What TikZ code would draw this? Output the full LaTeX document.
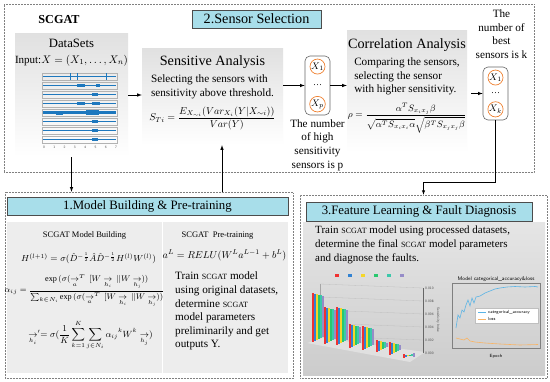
\RequirePackage{fix-cm}
\documentclass[tikz,border=0pt]{standalone}
\usepackage{amsmath}
\usepackage{fontspec}
\setmainfont{Liberation Serif}
\usepackage{tikz}
\usetikzlibrary{arrows,positioning}

\definecolor{titlecyan}{RGB}{168,222,234}
\definecolor{sensorange}{RGB}{240,130,50}
\definecolor{sigblue}{RGB}{30,120,190}
\definecolor{barred}{RGB}{240,50,50}
\definecolor{barblue}{RGB}{50,130,210}
\definecolor{baryellow}{RGB}{245,215,40}
\definecolor{bargreen}{RGB}{40,200,110}
\definecolor{barteal}{RGB}{60,200,170}
\definecolor{barpurple}{RGB}{150,140,200}
\definecolor{lineblue}{RGB}{90,180,230}
\definecolor{lineorange}{RGB}{250,180,100}

\newcommand{\scgat}{{\fontsize{8}{8}\selectfont SCGAT}}
\newcommand{\ulvec}[1]{\underset{#1}{\rightarrow}}

\begin{document}
\begin{tikzpicture}[x=1pt, y=-1pt,
    dotbox/.style={draw=black!50, densely dotted, line width=0.5pt},
    titlebox/.style={draw=black!70, fill=titlecyan, line width=0.5pt, inner sep=0pt},
    panel/.style={top color=black!12, bottom color=white, inner sep=0pt},
    grpbox/.style={draw=black!60, rounded corners=5pt, fill=white, line width=0.6pt},
    sensc/.style={draw=sensorange, circle, line width=0.7pt, minimum size=15pt, inner sep=0pt, font=\fontsize{9.5}{9.5}\selectfont},
    arr/.style={-latex, line width=0.6pt},
    head/.style={font=\fontsize{14.2}{16}\selectfont},
    body/.style={font=\fontsize{11.2}{13.6}\selectfont, align=left, inner sep=0pt},
    tiny/.style={font=\fontsize{3.5}{4}\sffamily, text=black!70, inner sep=0pt}]
  \fill[white] (0,0) rectangle (550,381);
  \useasboundingbox (0,0) rectangle (550,381);

  % sensor selection
  \node[dotbox, minimum width=530pt, minimum height=168pt] (selbox) at (269,88) {};
  \node[titlebox, head, minimum width=129pt, minimum height=18pt] (seltitle) at (256.5,19) {2.Sensor Selection};
  \node[font=\bfseries\fontsize{12.2}{13}\selectfont] (scgat) at (59,20) {SCGAT};

  \node[panel, minimum width=113pt, minimum height=124pt] (data) at (71.5,95) {};
  \node[below=3pt of data.north, font=\fontsize{12.7}{13}\selectfont] (datat) {DataSets};
  \node[below=0pt of datat, font=\fontsize{11}{12}\selectfont] (input) {Input:$X=(X_1,\ldots,X_n)$};
  \foreach \i/\w in {0/0.4,1/1.2,2/0.7,3/1.2,4/2.2,5/1.2,6/1.0,7/0.9} {
    \draw[black!30, line width=0.3pt] (42,73+9*\i) rectangle (117,80+9*\i);
    \draw[sigblue, line width=\w pt] (43,76.5+9*\i) -- (116,76.5+9*\i);
  }
  \foreach \i/\xa/\xb/\h in {1/77/85/2.5, 1/96/100/2.5, 2/92/98/2.5, 3/77/85/2.5, 3/92/100/3,
      4/56/63/4, 4/86/99/4.5, 5/92/98/2.5, 6/92/98/2.5, 7/92/98/2.2}
    \fill[sigblue] (\xa,76.5+9*\i-\h/2) rectangle (\xb,76.5+9*\i+\h/2);
  \foreach \xx in {70,77,106}
    \draw[sigblue, line width=0.5pt] (\xx,73) -- (\xx,80);
  \foreach \t in {0,...,7}
    \node[tiny] (dtick\t) at (44+10.3*\t,147) {\t};

  \node[panel, minimum width=141pt, minimum height=97pt] (sens) at (212.5,96.5) {};
  \node[below=4pt of sens.north, head] (senst) {Sensitive Analysis};
  \node[below=3pt of senst, body] (senstxt) {Selecting the sensors with\\sensitivity above threshold.};
  \node[below=4pt of senstxt, font=\fontsize{10}{12}\selectfont] (sensf)
    {$S_{Ti}=\dfrac{E_{X_{\sim i}}(Var_{X_i}(Y|X_{\sim i}))}{Var(Y)}$};

  \node[grpbox, minimum width=25pt, minimum height=59pt] (grpP) at (317.5,85.5) {};
  \node[sensc, below=3pt of grpP.north] (xp1) {$X_1$};
  \node[sensc, above=3pt of grpP.south] (xpp) {$X_p$};
  \node[font=\fontsize{9}{9}\selectfont, inner sep=0pt] (pdots) at (grpP) {\ldots};
  \node[below=4pt of grpP, body, align=center] (pnote) {The number\\of high\\sensitivity\\sensors is p};

  \node[panel, minimum width=120pt, minimum height=122pt] (corr) at (407,91) {};
  \node[below=5pt of corr.north, head] (corrt) {Correlation Analysis};
  \node[below=3pt of corrt, body] (corrtxt) {Comparing the sensors,\\selecting the sensor\\with higher sensitivity.};
  \node[below=7pt of corrtxt, font=\fontsize{9.2}{11}\selectfont, inner sep=0pt] (corrf)
    {$\rho=\dfrac{\alpha^T S_{x_ix_j}\beta}{\sqrt{\alpha^T S_{x_ix_i}\alpha}\sqrt{\beta^T S_{x_jx_j}\beta}}$};

  \node[grpbox, minimum width=25pt, minimum height=53pt] (grpK) at (495.5,93.5) {};
  \node[sensc, below=3pt of grpK.north] (xk1) {$X_1$};
  \node[sensc, above=3pt of grpK.south] (xkk) {$X_k$};
  \node[font=\fontsize{9}{9}\selectfont, inner sep=0pt] (kdots) at (grpK) {\ldots};
  \node[above=8pt of grpK, xshift=6pt, body, align=center] (knote) {The\\number of\\best\\sensors is k};

  % model building and pre-training
  \node[dotbox, minimum width=288pt, minimum height=186pt] (mbox) at (149,285) {};
  \node[titlebox, font=\fontsize{12.8}{14}\selectfont, minimum width=281pt, minimum height=18pt] (mtitle) at (147.5,206) {1.Model Building \& Pre-training};
  \node[fill=black!7, minimum width=155pt, minimum height=151pt, inner sep=0pt] (build) at (84.5,297.5) {};
  \node[fill=black!7, minimum width=125pt, minimum height=151pt, inner sep=0pt] (pre) at (225.5,297.5) {};

  \node[below=10pt of build.north, font=\fontsize{8.5}{9}\selectfont, inner sep=0pt] (buildt) {SCGAT Model Building};
  \node[below=13pt of buildt, xshift=4pt, font=\fontsize{8.8}{11}\selectfont, inner sep=0pt] (hform)
    {$H^{(l+1)}=\sigma(\hat{D}^{-\frac{1}{2}}\hat{A}\hat{D}^{-\frac{1}{2}}H^{(l)}W^{(l)})$};
  \node[below=10pt of hform, xshift=-4pt, font=\fontsize{8.2}{10}\selectfont, inner sep=0pt] (aform)
    {$\alpha_{ij}=\dfrac{\exp\,(\sigma(\ulvec{a}^{T}\,[W\ulvec{h_i}\,||W\ulvec{h_j}))}{\sum_{k\in N_i}\exp\,(\sigma(\ulvec{a}^{T}\,[W\ulvec{h_i}\,||W\ulvec{h_j}))}$};
  \node[below=13pt of aform, xshift=6pt, font=\fontsize{9}{11}\selectfont, inner sep=0pt] (hpform)
    {$\ulvec{h_i}'=\sigma(\dfrac{1}{K}\displaystyle\sum_{k=1}^{K}\sum_{j\in N_i}\alpha_{ij}{}^{k}W^{k}\ulvec{h_j})$};

  \node[below=10pt of pre.north, font=\fontsize{8.5}{9}\selectfont, inner sep=0pt, xshift=-8pt] (pret) {SCGAT\ \ Pre-training};
  \node[below=10pt of pret, xshift=7pt, font=\fontsize{10}{12}\selectfont, inner sep=0pt] (alform)
    {$a^L=RELU(W^La^{L-1}+b^L)$};
  \node[anchor=north west, body] (pretxt) at (175,272)
    {Train \scgat{} model\\using original datasets,\\determine \scgat\\model parameters\\preliminarily and get\\outputs Y.};

  % feature learning and fault diagnosis
  \node[dotbox, minimum width=247pt, minimum height=183pt] (fbox) at (423.5,286.5) {};
  \node[top color=black!10, middle color=white, bottom color=black!20, minimum width=242pt, minimum height=153pt, inner sep=0pt] (feat) at (424,298.5) {};
  \node[titlebox, font=\fontsize{12.8}{14}\selectfont, minimum width=226pt, minimum height=19pt] (ftitle) at (419,211.5) {3.Feature Learning \& Fault Diagnosis};
  \node[anchor=north west, body, font=\fontsize{11}{13.6}\selectfont] (feattxt) at (315,226)
    {Train \scgat{} model using processed datasets,\\determine the final \scgat{} model parameters\\and diagnose the faults.};

  % bar chart
  \fill[black!12] (307,343) -- (410,362) -- (425,352) -- (322,338) -- cycle;
  \foreach \yy in {284,297,310,323,336}
    \draw[black!25, line width=0.3pt] (320,\yy) -- (423,\yy+4);
  \draw[black!35, line width=0.3pt] (320,284) -- (320,338);
  \draw[black!60, line width=0.3pt] (423,288) -- (423,353);
  \foreach \yy/\lab in {288/0.010,301/0.008,314/0.006,327/0.004,340/0.002,353/0.000}
    \node[tiny, anchor=west] (btick\yy) at (425,\yy) {\lab};
  \node[tiny, rotate=-90] (bylab) at (438,320) {Sensitivity Index};
  \foreach \c [count=\k from 0] in {barred,barblue,baryellow,bargreen,barteal,barpurple}
    \fill[\c] (335+13*\k,273.5) rectangle ++(3.5,3);
  \foreach \gx/\gt/\gb in {312/293/342, 324/307/344, 336/307/345, 349/324/348,
      362/326/350, 376/340/352, 389/342/355, 403/354/358}
    \foreach \c [count=\k from 0] in {barpurple,barteal,bargreen,baryellow,barblue,barred}
      \fill[\c] (\gx+10-2*\k,\gt+3-0.6*\k) rectangle (\gx+12-2*\k,\gb-5+0.9*\k);

  % accuracy and loss
  \node[font=\fontsize{5.2}{6}\sffamily, inner sep=0pt] (lttl) at (496,279) {Model categorical\_accuracy\&loss};
  \draw[black!50, line width=0.3pt] (452,283) rectangle (540,348);
  \draw[lineblue, line width=0.6pt] plot coordinates {(456,328) (458,315) (460,318) (462,310) (464,312)
    (466,305) (468,300) (470,306) (472,298) (474,303) (476,297) (480,296) (485,293) (490,291)
    (495,289) (500,288) (507,287) (515,286.5) (525,287) (535,286.5) (538,287)};
  \draw[lineorange, line width=0.6pt] plot coordinates {(456,338) (460,339) (464,340) (467,338)
    (470,341) (475,342) (485,343) (500,344) (520,345) (538,344.5)};
  \draw[black!25, fill=white, line width=0.3pt] (475,308) rectangle (538,323);
  \draw[lineblue, line width=0.6pt] (478,312) -- (486,312);
  \node[font=\fontsize{4.5}{5}\sffamily, anchor=west, inner sep=0pt] (lgacc) at (488,312) {categorical\_accuracy};
  \draw[lineorange, line width=0.6pt] (478,319) -- (486,319);
  \node[font=\fontsize{4.5}{5}\sffamily, anchor=west, inner sep=0pt] (lgloss) at (488,319) {loss};
  \node[font=\fontsize{4.5}{5}\sffamily, inner sep=0pt] (epoch) at (496,356) {Epoch};

  % connectors
  \draw[arr] (data.east) -- (data.east -| sens.west);
  \draw[arr] (sens.east |- grpP) -- (grpP.west);
  \draw[arr] (grpP.east) -- (grpP.east -| corr.west);
  \draw[arr] ([xshift=4pt]corr.east |- grpK) -- (grpK.west);
  \draw[arr] (data.south) -- (data.south |- mbox.north);
  \draw[arr] ([xshift=9.5pt]sens.south |- mbox.north) -- ([xshift=9.5pt]sens.south);
  \draw[arr, line width=0.5pt] (grpK.south) -- ++(0,62) -| (fbox.north);
\end{tikzpicture}
\end{document}
